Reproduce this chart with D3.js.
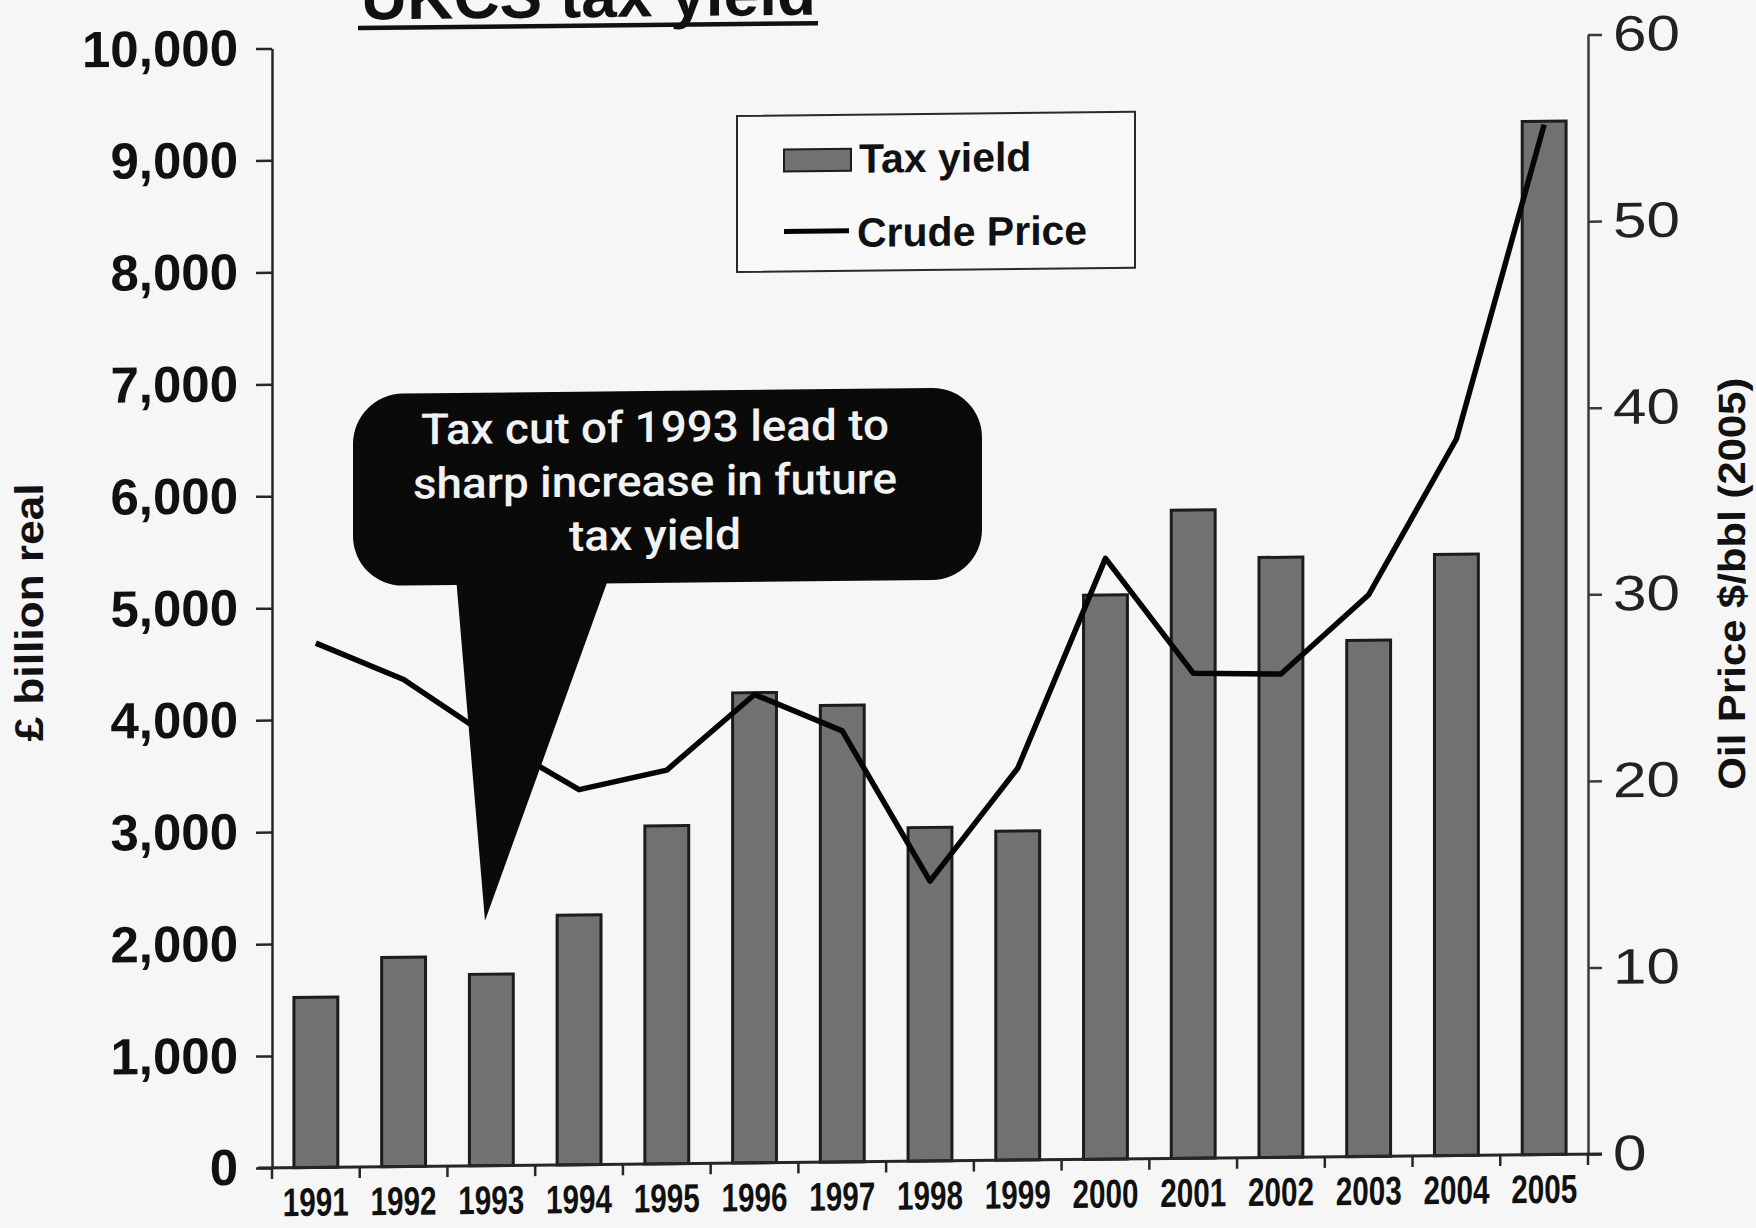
<!DOCTYPE html>
<html>
<head>
<meta charset="utf-8">
<script src="https://cdn.jsdelivr.net/npm/d3@7"></script>
<style>
  html, body { margin: 0; padding: 0; background: #f6f6f6; }
  svg { display: block; }
</style>
</head>
<body>
<svg id="chart" width="1756" height="1228"></svg>
<script>
// ---------- DATA ----------
const years = ["1991","1992","1993","1994","1995","1996","1997","1998","1999","2000","2001","2002","2003","2004","2005"];
const taxYield = [1520, 1870, 1710, 2230, 3020, 4200, 4080, 2980, 2940, 5040, 5790, 5360, 4610, 5370, 9230];
const crudePrice = [28.1, 26.1, 22.9, 20.1, 21.1, 25.1, 23.1, 15.0, 21.0, 32.2, 26.0, 25.9, 30.1, 38.4, 55.2];
const leftTicks = [0, 1000, 2000, 3000, 4000, 5000, 6000, 7000, 8000, 9000, 10000];
const rightTicks = [0, 10, 20, 30, 40, 50, 60];
const calloutLines = ["Tax cut of 1993 lead to", "sharp increase in future", "tax yield"];
const titleText = "UKCS tax yield";
const leftTitle = "£ billion real";
const rightTitle = "Oil Price $/bbl (2005)";
const legendItems = ["Tax yield", "Crude Price"];

// ---------- LAYOUT ----------
const W = 1756, H = 1228;
const X0 = 272, X1 = 1588, YT = 41.5, YB = 1161;
const BAR_FILL = "#717171", BAR_STROKE = "#1c1c1c", AXIS = "#262626";
const FONT = "'Liberation Sans', Arial, Helvetica, sans-serif";

const svg = d3.select("#chart");
svg.append("rect").attr("width", W).attr("height", H).attr("fill", "#f6f6f6");

// scanned page is slightly skewed: horizontal lines rise to the right
const skewDeg = -0.6, cx = 930;
const g = svg.append("g")
  .attr("transform", `translate(0,${cx * Math.tan(-skewDeg * Math.PI / 180)}) skewY(${skewDeg})`);

const x = d3.scaleBand().domain(years).range([X0, X1]).paddingInner(0.5).paddingOuter(0.25);
const yL = d3.scaleLinear().domain([0, 10000]).range([YB, YT]);
const yR = d3.scaleLinear().domain([0, 60]).range([YB, YT]);
const step = x.step();
const cxOf = d => x(d) + x.bandwidth() / 2;

// bars
g.append("g").selectAll("rect").data(years).join("rect")
  .attr("x", d => x(d))
  .attr("width", x.bandwidth())
  .attr("y", (d, i) => yL(taxYield[i]))
  .attr("height", (d, i) => YB - yL(taxYield[i]))
  .attr("fill", BAR_FILL)
  .attr("stroke", BAR_STROKE)
  .attr("stroke-width", 3);

// crude price line
const line = d3.line().x((d, i) => cxOf(years[i])).y(d => yR(d));
g.append("path").datum(crudePrice)
  .attr("d", line)
  .attr("fill", "none")
  .attr("stroke", "#050505")
  .attr("stroke-width", 5.5)
  .attr("stroke-linejoin", "round");

// left axis
const axL = g.append("g").attr("transform", `translate(${X0},0)`)
  .call(d3.axisLeft(yL).tickValues(leftTicks).tickSize(16).tickSizeOuter(0).tickPadding(18).tickFormat(d3.format(",")));
axL.selectAll("path,line").attr("stroke", AXIS).attr("stroke-width", 2.5);
axL.selectAll("text").attr("font-family", FONT).attr("font-weight", "bold").attr("font-size", 51).attr("fill", "#111");

// right axis
const axR = g.append("g").attr("transform", `translate(${X1},0)`)
  .call(d3.axisRight(yR).tickValues(rightTicks).tickSize(14).tickSizeOuter(0).tickPadding(11));
axR.selectAll("path,line").attr("stroke", "#3a3a3a").attr("stroke-width", 2.5);
axR.selectAll("text").attr("font-family", FONT).attr("font-size", 50).attr("fill", "#222")
  .attr("textLength", d => String(d).length * 33.5).attr("lengthAdjust", "spacingAndGlyphs");

// x axis baseline and tick marks at band boundaries
g.append("line").attr("x1", X0 - 14).attr("x2", X1 + 14).attr("y1", YB).attr("y2", YB)
  .attr("stroke", AXIS).attr("stroke-width", 3);
const boundaries = years.map(d => x(d) - step * x.paddingOuter()).concat([X1]);
g.append("g").selectAll("line").data(boundaries).join("line")
  .attr("x1", d => d).attr("x2", d => d).attr("y1", YB).attr("y2", YB + 11)
  .attr("stroke", AXIS).attr("stroke-width", 2.5);

const axB = g.append("g").attr("transform", `translate(0,${YB})`)
  .call(d3.axisBottom(x).tickSize(0).tickPadding(20));
axB.select(".domain").remove();
axB.selectAll("text").attr("font-family", FONT).attr("font-weight", "bold").attr("font-size", 40).attr("fill", "#111")
  .attr("textLength", 66).attr("lengthAdjust", "spacingAndGlyphs");

// axis titles
g.append("text").attr("transform", "translate(43,603) rotate(-90)")
  .attr("text-anchor", "middle").attr("font-family", FONT).attr("font-weight", "bold")
  .attr("font-size", 40).attr("fill", "#111")
  .attr("textLength", 258).attr("lengthAdjust", "spacingAndGlyphs")
  .text(leftTitle);
g.append("text").attr("transform", "translate(1745,798) rotate(-90)")
  .attr("text-anchor", "start").attr("font-family", FONT).attr("font-weight", "bold")
  .attr("font-size", 38).attr("fill", "#111")
  .attr("textLength", 412).attr("lengthAdjust", "spacingAndGlyphs")
  .text(rightTitle);

// title (cut off at the top of the page)
g.append("text").attr("x", 361).attr("y", 13.5)
  .attr("font-family", FONT).attr("font-weight", "bold").attr("font-size", 64).attr("fill", "#111")
  .attr("textLength", 455).attr("lengthAdjust", "spacingAndGlyphs")
  .text(titleText);
g.append("line").attr("x1", 358).attr("x2", 818).attr("y1", 22).attr("y2", 22)
  .attr("stroke", "#111").attr("stroke-width", 4.5);

// legend
const lg = g.append("g");
lg.append("rect").attr("x", 737).attr("y", 114).attr("width", 398).attr("height", 156)
  .attr("fill", "#f8f8f8").attr("stroke", "#2a2a2a").attr("stroke-width", 2);
lg.append("rect").attr("x", 784).attr("y", 148).attr("width", 67).attr("height", 22)
  .attr("fill", BAR_FILL).attr("stroke", BAR_STROKE).attr("stroke-width", 2);
lg.append("line").attr("x1", 784).attr("x2", 849).attr("y1", 230).attr("y2", 230)
  .attr("stroke", "#050505").attr("stroke-width", 5);
lg.selectAll("text").data(legendItems).join("text")
  .attr("x", (d, i) => i === 0 ? 859 : 857)
  .attr("y", (d, i) => i === 0 ? 172 : 246)
  .attr("font-family", FONT).attr("font-weight", "bold").attr("font-size", 41).attr("fill", "#111")
  .text(d => d);

// callout
const co = g.append("g");
co.append("rect").attr("x", 353).attr("y", 388).attr("width", 629).attr("height", 192)
  .attr("rx", 50).attr("ry", 50).attr("fill", "#0a0a0a");
co.append("path").attr("d", "M455,560 L614,560 L485,916 Z").attr("fill", "#0a0a0a");
const lineLens = [468, 484, 172];
const lineYs = [439, 493, 547];
co.selectAll("text").data(calloutLines).join("text")
  .attr("x", 655).attr("y", (d, i) => lineYs[i])
  .attr("text-anchor", "middle")
  .attr("font-family", "Roboto, 'Open Sans', sans-serif").attr("font-weight", 500)
  .attr("font-size", 43).attr("fill", "#f2f2f2")
  .attr("textLength", (d, i) => lineLens[i]).attr("lengthAdjust", "spacingAndGlyphs")
  .text(d => d);
</script>
</body>
</html>
